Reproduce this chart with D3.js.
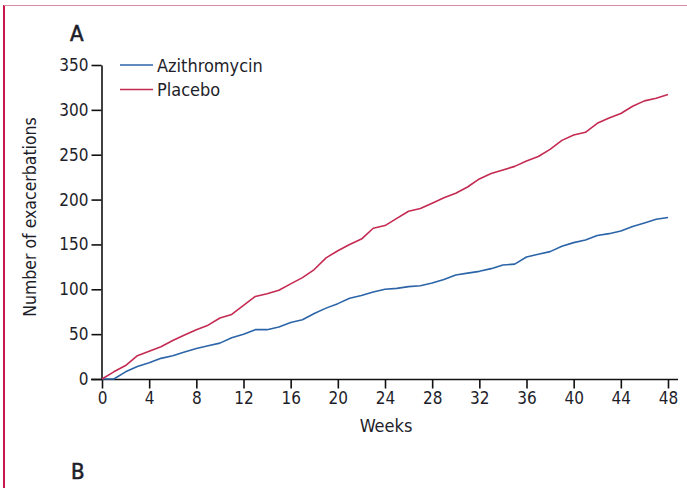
<!DOCTYPE html>
<html><head><meta charset="utf-8">
<script src="https://cdn.jsdelivr.net/npm/d3@7"></script>
<style>
html,body{margin:0;padding:0;background:#fff;}
svg{display:block;}
text{font-family:"Liberation Sans Narrow","DejaVu Sans Condensed","Open Sans",sans-serif;fill:#1e1e2a;}
</style></head>
<body><svg id="c" width="687" height="488"></svg>
<script>
const weeks = d3.range(0, 49);
const azithromycin = [0,0,8,14,18,23,26,30,34,37,40,46,50,55,55,58,63,66,73,79,84,90,93,97,100,101,103,104,107,111,116,118,120,123,127,128,136,139,142,148,152,155,160,162,165,170,174,178,180];
const placebo = [0,8,15,26,31,36,43,49,55,60,68,72,82,92,95,99,106,113,122,135,143,150,156,168,171,179,187,190,196,202,207,214,223,229,233,237,243,248,256,266,272,275,285,291,296,304,310,313,317];
const xTicks = d3.range(0, 49, 4);
const yTicks = [0,50,100,150,200,250,300,350];
const seriesNames = ["Azithromycin","Placebo"];
const seriesColors = ["#2c64a8","#c42a52"];

const svg = d3.select("#c");
// frame lines
svg.append("line").attr("x1",4).attr("x2",4).attr("y1",5).attr("y2",488).attr("stroke","#c8184c").attr("stroke-width",2);
svg.append("line").attr("x1",4).attr("x2",687).attr("y1",5.5).attr("y2",5.5).attr("stroke","#d98aa2").attr("stroke-width",1);

const x = d3.scaleLinear().domain([0,48]).range([102,668]);
const y = d3.scaleLinear().domain([0,350]).range([379,65]);

const fs = 17;
// y axis
const ya = svg.append("g").attr("transform","translate(101.5,0)")
  .call(d3.axisLeft(y).tickValues(yTicks).tickSize(10).tickPadding(3).tickSizeOuter(0));
ya.select(".domain").attr("stroke","#111").attr("stroke-width",1.6);
ya.selectAll(".tick line").attr("stroke","#111").attr("stroke-width",1.6);
ya.selectAll("text").style("font-size",fs+"px").attr("fill","#1e1e2a");

// x axis
const xa = svg.append("g").attr("transform","translate(0,379.5)")
  .call(d3.axisBottom(x).tickValues(xTicks).tickSize(9).tickPadding(3).tickSizeOuter(0));
xa.select(".domain").attr("d","M91,0H678").attr("stroke","#111").attr("stroke-width",1.6);
xa.selectAll(".tick line").attr("stroke","#111").attr("stroke-width",1.6);
xa.selectAll("text").style("font-size",fs+"px").attr("fill","#1e1e2a");

const line = d3.line().x((d,i)=>x(weeks[i])).y(d=>y(d));
[azithromycin, placebo].forEach((s,k)=>{
  svg.append("path").datum(s).attr("d",line).attr("fill","none")
    .attr("stroke",seriesColors[k]).attr("stroke-width",1.6).attr("stroke-linejoin","round");
});

// legend
seriesNames.forEach((n,k)=>{
  const yy = 65 + k*24.5;
  svg.append("line").attr("x1",120).attr("x2",153).attr("y1",yy).attr("y2",yy)
    .attr("stroke",seriesColors[k]).attr("stroke-width",1.6);
  svg.append("text").attr("x",157).attr("y",yy+6.5).style("font-size","18px").text(n);
});

// labels
svg.append("text").attr("x",70).attr("y",41).style("font-size","22px").style("stroke","#1e1e2a").style("stroke-width","0.6px").text("A");
svg.append("text").attr("x",71).attr("y",479).style("font-size","22px").style("stroke","#1e1e2a").style("stroke-width","0.6px").text("B");
svg.append("text").attr("x",386).attr("y",432).attr("text-anchor","middle").style("font-size","18px").text("Weeks");
svg.append("text").attr("transform","translate(36,217) rotate(-90)").attr("text-anchor","middle").style("font-size","17.5px").text("Number of exacerbations");
</script></body></html>
